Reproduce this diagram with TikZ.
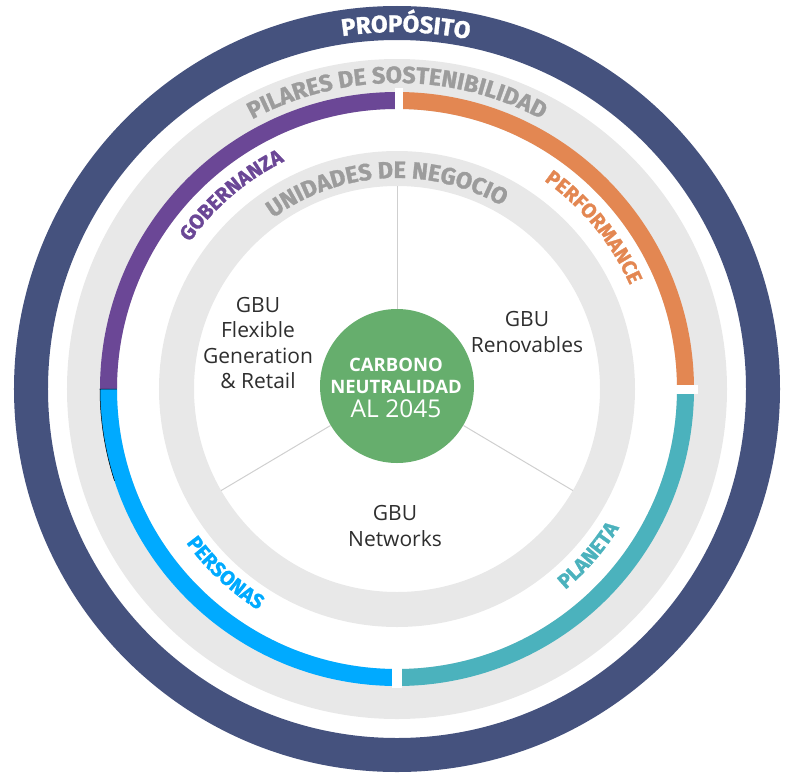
\documentclass[tikz,border=0pt]{standalone}
\usepackage{fontspec}
\setmainfont{Open Sans}
\newfontfamily\arcfont{Fira Sans}[BoldFeatures={FakeBold=1.2}]
\usetikzlibrary{decorations.text}
\definecolor{navyring}{HTML}{45527E}
\definecolor{lightring}{HTML}{E8E8E8}
\definecolor{ringtext}{HTML}{9C9C9C}
\definecolor{govpurple}{HTML}{6B4796}
\definecolor{perforange}{HTML}{E38752}
\definecolor{planteal}{HTML}{4BB2BD}
\definecolor{persblue}{HTML}{00AAFF}
\definecolor{coregreen}{HTML}{66AE6D}
\definecolor{spokegrey}{HTML}{CFCFCF}
\definecolor{labeltext}{HTML}{2E2E2E}
\newcommand\bigarcfont{\fontsize{24}{24}\selectfont\arcfont\bfseries}
\newcommand\midarcfont{\fontsize{23.5}{23.5}\selectfont\arcfont\bfseries}
\newcommand\pillarfont{\fontsize{20.5}{20.5}\selectfont\arcfont\bfseries}
\begin{document}
\begin{tikzpicture}[x=1pt,y=1pt,
  curvedtext/.style={decorate, decoration={text along path, text align=center, text={#1}}},
  pillar/.style={line width=17},
  unitlabel/.style={align=center, font=\fontsize{21}{25.5}\selectfont, text=labeltext},
  spoke/.style={draw=spokegrey, line width=1},
  gapblock/.style={fill=white},
]
\useasboundingbox (-397,-383) rectangle (389,389);
% rings
\draw[navyring, line width=34] (0,0) circle (366);
\draw[lightring, line width=50] (0,0) circle (305);
\draw[lightring, line width=35] (0,0) circle (220.5);
% pillar arcs
\draw[govpurple, pillar] (180:288.5) arc[start angle=180, end angle=90, radius=288.5];
\draw[perforange, pillar] (90:288.5) arc[start angle=90, end angle=0, radius=288.5];
\draw[planteal, pillar] (0:288.5) arc[start angle=360, end angle=270, radius=288.5];
\draw[persblue, pillar] (270:288.5) arc[start angle=270, end angle=180, radius=288.5];
\draw[black, line width=0.5] (180:280) -- (180:297) arc[start angle=180, end angle=198, radius=297];
% gaps
\fill[gapblock] (-2,275) rectangle (6,301);
\fill[gapblock] (275,-5) rectangle (301,4);
\fill[gapblock] (-5,-275) rectangle (5,-299);
% core and spokes
\node[circle, fill=coregreen, minimum size=154, inner sep=0] (core) at (0,3) {};
\coordinate (sTop) at (90:203);
\coordinate (sLeft) at (210:203);
\coordinate (sRight) at (330:203);
\draw[spoke] (core) -- (sTop);
\draw[spoke] (core) -- (sLeft);
\draw[spoke] (core) -- (sRight);
\node[align=center, text=white, font=\fontsize{18.5}{21.5}\selectfont\bfseries] (coretext) at (-1,1)
  {CARBONO\\NEUTRALIDAD\\[3pt]{\fontsize{24.5}{24.5}\selectfont\mdseries AL 2045}};
% curved texts
\path[curvedtext={|\bigarcfont\color{white}|PROPÓSITO}] (128.6:357) arc[start angle=128.6, end angle=48.6, radius=357];
\path[curvedtext={|\midarcfont\color{ringtext}|PILARES DE SOSTENIBILIDAD}] (150:306) arc[start angle=150, end angle=30, radius=306];
\path[curvedtext={|\midarcfont\color{ringtext}|UNIDADES DE NEGOCIO}] (153:211) arc[start angle=153, end angle=33, radius=211];
\path[curvedtext={|\pillarfont\color{govpurple}|GOBERNANZA}] (170.5:254) arc[start angle=170.5, end angle=90.5, radius=254];
\path[curvedtext={|\pillarfont\color{perforange}|PERFORMANCE}] (79.4:255) arc[start angle=79.4, end angle=-0.6, radius=255];
\path[curvedtext={|\pillarfont\color{persblue}|PERSONAS}] (187:261) arc[start angle=187, end angle=267, radius=261];
\path[curvedtext={|\pillarfont\color{planteal}|PLANETA}] (279:262) arc[start angle=279, end angle=359, radius=262];
% unit labels
\node[unitlabel] (gbuFlex) at (-139,46) {GBU\\Flexible\\Generation\\\& Retail};
\node[unitlabel] (gbuRen) at (130,57) {GBU\\Renovables};
\node[unitlabel] (gbuNet) at (-2,-137) {GBU\\Networks};
\end{tikzpicture}
\end{document}
